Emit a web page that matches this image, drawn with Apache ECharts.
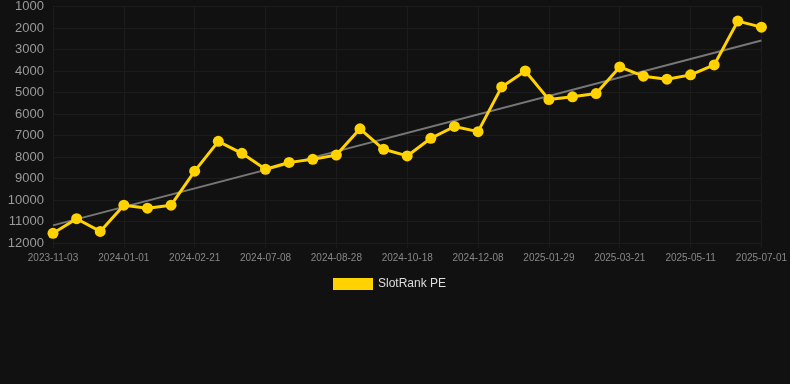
<!DOCTYPE html>
<html>
<head>
<meta charset="utf-8">
<script src="https://cdn.jsdelivr.net/npm/echarts@6/dist/echarts.min.js"></script>
<style>
  html, body { margin: 0; padding: 0; background: #111111; }
  #chart { width: 790px; height: 384px; }
</style>
</head>
<body>
<div id="chart"></div>
<script>
const dates = [
  '2023-11-03', '2023-11-23', '2023-12-12', '2024-01-01', '2024-01-18', '2024-02-04',
  '2024-02-21', '2024-04-05', '2024-05-21', '2024-07-08', '2024-07-25', '2024-08-11',
  '2024-08-28', '2024-09-14', '2024-10-01', '2024-10-18', '2024-11-04', '2024-11-21',
  '2024-12-08', '2024-12-25', '2025-01-12', '2025-01-29', '2025-02-15', '2025-03-04',
  '2025-03-21', '2025-04-07', '2025-04-24', '2025-05-11', '2025-05-28', '2025-06-14',
  '2025-07-01'
];

const rankPE = [
  11550, 10870, 11460, 10240, 10380, 10240, 8660, 7270, 7830, 8570, 8250,
  8110, 7910, 6690, 7640, 7950, 7130, 6580, 6820, 4740, 4000, 5330,
  5200, 5050, 3810, 4240, 4380, 4180, 3720, 1680, 1960
];

// trend line ends
const trendEnds = [11180, 2580];

const yTicks = { min: 1000, max: 12000, step: 1000 };

const chart = echarts.init(document.getElementById('chart'));

const option = {
  backgroundColor: '#111111',
  animation: false,
  grid: { left: 53, right: 28, top: 6, bottom: 141 },
  legend: {
    left: 328,
    top: 273,
    itemWidth: 40,
    itemHeight: 12,
    icon: 'rect',
    data: ['SlotRank PE'],
    textStyle: { color: '#dddddd', fontSize: 12, fontFamily: 'Arial, Liberation Sans, sans-serif' }
  },
  xAxis: {
    type: 'category',
    data: dates,
    boundaryGap: false,
    axisLine: { lineStyle: { color: '#1c1c1c' } },
    axisTick: { show: true, interval: 2, lineStyle: { color: '#1c1c1c' } },
    axisLabel: {
      interval: 2,
      color: '#888888',
      fontSize: 10,
      margin: 10,
      fontFamily: 'Arial, Liberation Sans, sans-serif'
    },
    splitLine: { show: true, interval: 2, lineStyle: { color: '#1c1c1c' } }
  },
  yAxis: {
    type: 'value',
    inverse: true,
    min: yTicks.min,
    max: yTicks.max,
    interval: yTicks.step,
    axisLine: { show: false },
    axisTick: { show: false },
    axisLabel: {
      color: '#9a9a9a',
      fontSize: 13,
      margin: 9,
      formatter: v => String(v),
      fontFamily: 'Arial, Liberation Sans, sans-serif'
    },
    splitLine: { lineStyle: { color: '#1c1c1c' } }
  },
  series: [
    {
      name: 'trend',
      type: 'line',
      data: [[dates[0], trendEnds[0]], [dates[dates.length - 1], trendEnds[1]]],
      symbol: 'none',
      lineStyle: { color: '#777777', width: 2 },
      z: 1,
      silent: true
    },
    {
      name: 'SlotRank PE',
      type: 'line',
      data: rankPE,
      symbol: 'circle',
      symbolSize: 11,
      itemStyle: { color: '#ffd200' },
      lineStyle: { color: '#ffd200', width: 3 },
      z: 2
    }
  ]
};

chart.setOption(option);
</script>
</body>
</html>
